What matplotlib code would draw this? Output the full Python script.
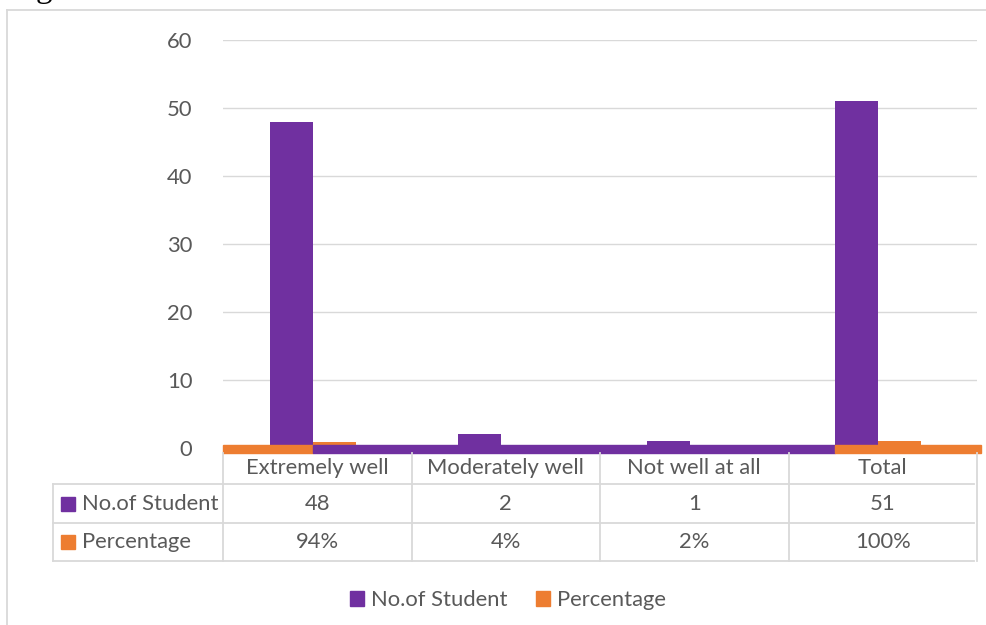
import matplotlib.pyplot as plt
import matplotlib.transforms as mtransforms
from matplotlib.lines import Line2D
from matplotlib.patches import Rectangle, Patch

categories = ['Extremely well', 'Moderately well', 'Not well at all', 'Total']
students = [48, 2, 1, 51]
percentage = [0.94, 0.04, 0.02, 1.00]
pct_labels = ['94%', '4%', '2%', '100%']
series_names = ['No.of Student', 'Percentage']

PURPLE = '#7030A0'
ORANGE = '#ED7D31'
GRID = '#D9D9D9'
TXT = '#595959'
FONT = 'Lato'
FS = 15.8

W, H = 987, 625
fig = plt.figure(figsize=(W / 100, H / 100), dpi=100)
plt.rcParams['font.family'] = [FONT, 'DejaVu Sans']


def fx(x):
    return x / W


def fy(y):
    return 1 - y / H


ax = fig.add_axes([fx(223), fy(448), fx(977) - fx(223), fy(40) - fy(448)])
x = list(range(len(categories)))
bw = 0.228
shift = -0.024
bars_s = ax.bar([i + shift - bw / 2 for i in x], students, width=bw, color=PURPLE, zorder=2)
bars_p = ax.bar([i + shift + bw / 2 for i in x], percentage, width=bw, color=ORANGE, zorder=2)

ax.set_xlim(-0.5, len(categories) - 0.5)
ax.set_ylim(0, 60)
ax.set_yticks(range(0, 61, 10))
ax.yaxis.grid(True, color=GRID, linewidth=1.0)
ax.set_axisbelow(True)
ax.set_xticks([])
ax.tick_params(axis='y', length=0, pad=22, labelsize=FS, labelcolor=TXT)
for s in ax.spines.values():
    s.set_visible(False)

# baseline band along the category axis
left_edge = bars_s[0].get_x() + bars_s[0].get_width()
right_edge = bars_s[-1].get_x()
band = [(-0.5, left_edge, ORANGE), (left_edge, right_edge, PURPLE),
        (right_edge, len(categories) - 0.5 + 0.02, ORANGE)]
for x0, x1, c in band:
    ax.add_patch(Rectangle((x0, -0.74), x1 - x0, 1.18, color=c, clip_on=False, zorder=3))

# data table under the plot
blend = mtransforms.blended_transform_factory(ax.transData, fig.transFigure)
bounds = [i - 0.5 for i in range(len(categories) + 1)]
rows_y = [484, 523, 561]
for b in bounds:
    fig.add_artist(Line2D([b, b], [fy(453), fy(561)], transform=blend, color=GRID, lw=1.3))
fig.add_artist(Line2D([fx(53), fx(53)], [fy(484), fy(561)], color=GRID, lw=1.3))
for ry in rows_y:
    fig.add_artist(Line2D([fx(53), fx(974)], [fy(ry), fy(ry)], color=GRID, lw=1.3))

for i, cat in enumerate(categories):
    fig.text(i, fy(468), cat, transform=blend, ha='center', va='center', fontsize=FS, color=TXT)
    fig.text(i, fy(504), str(students[i]), transform=blend, ha='center', va='center', fontsize=FS, color=TXT)
    fig.text(i, fy(542), pct_labels[i], transform=blend, ha='center', va='center', fontsize=FS, color=TXT)

for name, c, cy in zip(series_names, [PURPLE, ORANGE], [504, 542]):
    fig.add_artist(Rectangle((fx(61), fy(cy + 7)), fx(14), 14 / H, color=c))
    fig.text(fx(82), fy(cy), name, ha='left', va='center', fontsize=FS, color=TXT)

# legend
handles = [Patch(color=PURPLE), Patch(color=ORANGE)]
fig.legend(handles, series_names, loc='center', bbox_to_anchor=(fx(508), fy(600)), ncol=2,
           frameon=False, fontsize=FS, labelcolor=TXT, handlelength=0.64, handleheight=0.64,
           handletextpad=0.33, columnspacing=1.28)

# chart frame and caption remnant
fig.add_artist(Line2D([fx(7), 1], [fy(10), fy(10)], color=GRID, lw=1.3))
fig.add_artist(Line2D([fx(7), fx(7)], [fy(10), 0], color=GRID, lw=1.3))
fig.text(fx(36), fy(-3), 'g', fontsize=24, family='Liberation Serif', color='black', va='baseline')

fig.savefig('out.png', dpi=100)
